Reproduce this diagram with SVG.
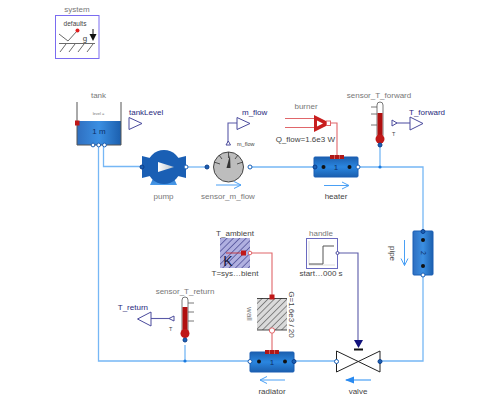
<svg xmlns="http://www.w3.org/2000/svg" width="499" height="400" viewBox="0 0 499 400">
<defs>
<linearGradient id="blue" x1="0" y1="0" x2="1" y2="0"><stop offset="0" stop-color="#2f6fc0"/><stop offset="0.5" stop-color="#3b8fe2"/><stop offset="1" stop-color="#1b5fae"/></linearGradient>
<linearGradient id="blueV" x1="0" y1="0" x2="0" y2="1"><stop offset="0" stop-color="#1b5fae"/><stop offset="0.5" stop-color="#2a86e0"/><stop offset="1" stop-color="#1b5fae"/></linearGradient>
<linearGradient id="base" x1="0" y1="0" x2="0" y2="1"><stop offset="0" stop-color="#1a5fb4"/><stop offset="1" stop-color="#4a9bea"/></linearGradient>
<linearGradient id="tip" x1="0" y1="0" x2="1" y2="0"><stop offset="0" stop-color="#ffffff"/><stop offset="1" stop-color="#b8c0c8"/></linearGradient>
<pattern id="hatchK" width="4.500" height="4.500" patternUnits="userSpaceOnUse" patternTransform="rotate(45)"><rect width="4.500" height="4.500" fill="#b0b0e0"/><line x1="0" y1="0" x2="0" y2="4.500" stroke="#4c4c96" stroke-width="1.500"/></pattern>
<pattern id="hatchW" width="4.500" height="4.500" patternUnits="userSpaceOnUse" patternTransform="rotate(45)"><rect width="4.500" height="4.500" fill="#dadada"/><line x1="0" y1="0" x2="0" y2="4.500" stroke="#606060" stroke-width="1.400"/></pattern>
</defs>
<style>
text{font-family:"Liberation Sans",Arial,sans-serif;font-size:8px}
.g{fill:#777}
.b{fill:#28287c}
.k{fill:#444}
.f{fill:none;stroke:#76b7f5;stroke-width:1.3}
.s{fill:none;stroke:#5a5aa8;stroke-width:1.100}
.h{fill:none;stroke:#e0666a;stroke-width:1.100}
.pf{fill:#1a5fb4;stroke:#0d3f8c;stroke-width:1}
.po{fill:#fff;stroke:#1a5fb4;stroke-width:1}
.tri{fill:#fff;stroke:#4a4a9c;stroke-width:1}
.fa{fill:none;stroke:#4aa0f5;stroke-width:1}
.dot{fill:#111}
</style>

<g id="connectors">
<path class="f" d="M98.500 146V361H251"/>
<path class="f" d="M103.500 146V166.500H142"/>
<path class="f" d="M186 167H207"/>
<path class="f" d="M250 167H315"/>
<path class="f" d="M358 167H423V231"/>
<path class="f" d="M423 275V361H380"/>
<path class="f" d="M294 361H336"/>
<path class="f" d="M380 146V167"/>
<path class="f" d="M185 345V361"/>
<path class="s" d="M228 143V123H237"/>
<path class="s" d="M394 123H410"/>
<path class="s" d="M151 318.500H171"/>
<path class="s" d="M337 253H358V340"/>
<path class="h" d="M330 123H337V156"/>
<path class="h" d="M250 253H272V297"/>
<path class="h" d="M272 331V352"/>
<circle cx="380" cy="167" r="1.600" fill="#1a7ae0"/>
<circle cx="185" cy="361" r="1.600" fill="#1a7ae0"/>
</g>

<g id="system">
<text class="g" x="77" y="12" text-anchor="middle">system</text>
<rect x="55.500" y="15.500" width="43.500" height="43" fill="#fff" stroke="#7a6cf0" stroke-width="1"/>
<text x="75" y="26" text-anchor="middle" class="k" style="font-size:6.500px">defaults</text>
<path d="M59 34L68 41L77 31" fill="none" stroke="#444" stroke-width=".8"/>
<circle cx="77.500" cy="30.500" r="2" fill="#e01c1c"/>
<path d="M59 43.500H95M60 52L66 44M69 52L75 44M78 52L84 44M87 52L93 44" fill="none" stroke="#444" stroke-width=".8"/>
<text x="85" y="41" text-anchor="middle" class="k" style="font-size:8px">g</text>
<path d="M93 29V36" stroke="#111" stroke-width="1"/>
<path d="M89.500 34H96.500L93 41Z" fill="#111"/>
</g>

<g id="tank">
<text class="g" x="98.500" y="98" text-anchor="middle">tank</text>
<rect x="77" y="121" width="44" height="24" fill="url(#blue)"/>
<path d="M77 102V145H121V102" fill="none" stroke="#555" stroke-width="1"/>
<text x="98.500" y="115" text-anchor="middle" class="g" style="font-size:4px">level =</text>
<text x="99" y="134" text-anchor="middle" fill="#0d2f66">1 m</text>
<rect x="75" y="120.500" width="4.500" height="5" fill="#c01818"/>
<circle cx="93" cy="145" r="1.900" class="po"/>
<circle cx="98.700" cy="145" r="1.900" class="po"/>
<circle cx="104.500" cy="145" r="1.900" class="po"/>
</g>

<g id="tankLevel">
<text class="b" x="129" y="115">tankLevel</text>
<path class="tri" d="M129 117.500L142 123.500L129 129.500Z"/>
</g>

<g id="pump">
<path d="M150 185H177L171 172H156Z" fill="url(#base)"/>
<path d="M142 156L150 158V176L142 178ZM186 156L178 158V176L186 178Z" fill="#1a5fb4"/>
<circle cx="164" cy="167" r="17" fill="#1a5fb4"/>
<path d="M158 162L174 167L158 172Z" fill="url(#tip)"/>
<circle cx="142" cy="167" r="2" class="pf"/>
<circle cx="186" cy="167" r="2" class="po"/>
<text class="g" x="163.500" y="199" text-anchor="middle">pump</text>
</g>

<g id="sensor_m_flow">
<circle cx="228.500" cy="167" r="15" fill="#bdbdbd" stroke="#444" stroke-width="1"/>
<path d="M228.500 152V158M214 162L220 164M243 162L237 164M219 155L222 159M238 155L235 159" stroke="#333" stroke-width=".8" fill="none"/>
<path d="M226.500 168L230.500 168L230 155Z" fill="#333"/>
<path class="tri" d="M226 145H230.500L228.300 141Z"/>
<circle cx="207" cy="167" r="2" class="pf"/>
<circle cx="250" cy="167" r="2" class="po"/>
<text x="237" y="146" class="k" style="font-size:5.500px">m_flow</text>
<path class="fa" d="M216 185H241M234 181.500L241 185L234 188.500"/>
<text class="g" x="228" y="199" text-anchor="middle">sensor_m_flow</text>
</g>

<g id="m_flow">
<text class="b" x="242" y="115">m_flow</text>
<path class="tri" d="M237 117.500L250 123.500L237 129.500Z"/>
</g>

<g id="burner">
<text class="g" x="306" y="109" text-anchor="middle">burner</text>
<path d="M285 118.500H316M285 127.500H316" stroke="#e0666a" stroke-width="1" fill="none"/>
<path d="M314 115L326 121V126L314 132Z" fill="#c81e1e"/>
<path d="M317 120.500L323 123.500L317 126.500Z" fill="#fff"/>
<rect x="326.500" y="121" width="4" height="4.500" fill="#fff" stroke="#e0666a"/>
<text class="k" x="335" y="142" text-anchor="end">Q_flow=1.6e3 W</text>
</g>

<g id="heater">
<rect x="314" y="157" width="44" height="20" rx="1" fill="url(#blueV)" stroke="#1a5fb4"/>
<rect x="330" y="155" width="14" height="4" fill="#b01818"/>
<path d="M334.500 155V159M339.500 155V159" stroke="#e89090" stroke-width=".6"/>
<circle cx="323.500" cy="167" r="2" class="dot"/>
<circle cx="349.500" cy="167" r="2" class="dot"/>
<text x="336" y="170" text-anchor="middle" fill="#0d2f66">1</text>
<circle cx="315" cy="167" r="2" class="pf"/>
<circle cx="358" cy="167" r="2" class="po"/>
<path class="fa" d="M324 185.500H349M342 182L349 185.500L342 189"/>
<text class="k" x="336" y="199" text-anchor="middle">heater</text>
</g>

<g id="sensor_T_forward">
<text class="g" x="379" y="98" text-anchor="middle">sensor_T_forward</text>
<rect x="377" y="102" width="6" height="36" rx="3" fill="#fff" stroke="#555" stroke-width=".8"/>
<rect x="377.500" y="113" width="5" height="27" fill="#b01010"/>
<circle cx="380" cy="139" r="4.500" fill="#c01818"/>
<path d="M371 107H377M371 114H377M371 125H377" stroke="#555" stroke-width=".8"/>
<circle cx="380" cy="145" r="2" class="pf"/>
<path class="tri" d="M392 120L397 123L392 126Z"/>
<text class="k" x="392" y="136" style="font-size:5.500px">T</text>
</g>

<g id="T_forward">
<text class="b" x="409" y="115">T_forward</text>
<path class="tri" d="M410 117L423 123.500L410 130Z"/>
</g>

<g id="pipe">
<rect x="413" y="231" width="20" height="44" rx="1" fill="url(#blue)" stroke="#1a5fb4"/>
<circle cx="423" cy="240" r="2" class="dot"/>
<circle cx="423" cy="266" r="2" class="dot"/>
<text transform="translate(420.500 253) rotate(90)" text-anchor="middle" fill="#0d2f66" style="font-size:7px">2</text>
<circle cx="423" cy="231.500" r="2" class="pf"/>
<circle cx="423" cy="275" r="2" class="po"/>
<text class="k" transform="translate(390 253.500) rotate(90)" text-anchor="middle">pipe</text>
<path class="fa" d="M404.500 240V265.500M401 258.500L404.500 265.500L408 258.500"/>
</g>

<g id="T_ambient">
<text class="k" x="235" y="236" text-anchor="middle">T_ambient</text>
<rect x="220" y="238" width="30" height="30" fill="url(#hatchK)"/>
<path d="M226 253H244" stroke="#c81e1e" stroke-width=".8"/>
<rect x="241" y="250.500" width="5" height="5" fill="#c01818"/>
<circle cx="250" cy="253" r="1.800" fill="#fff" stroke="#e0666a"/>
<text x="228" y="266" text-anchor="middle" fill="#14143c" style="font-size:14px">K</text>
<text class="k" x="235" y="275.500" text-anchor="middle">T=sys…bient</text>
</g>

<g id="handle">
<text class="g" x="321" y="236" text-anchor="middle">handle</text>
<rect x="306.500" y="238.500" width="31" height="30" fill="#fff" stroke="#6a6ac0" stroke-width="1"/>
<path d="M309 241V265H335" fill="none" stroke="#ccc" stroke-width=".7"/>
<path d="M309 264H323V246H334" fill="none" stroke="#555" stroke-width="1"/>
<circle cx="337.500" cy="253" r="1.500" class="tri"/>
<text class="k" x="321" y="276" text-anchor="middle">start…000 s</text>
</g>

<g id="wall">
<rect x="257" y="298" width="30" height="32" fill="url(#hatchW)"/>
<path d="M257 298.500H287M257 330H287" stroke="#222" stroke-width=".8"/>
<rect x="269.500" y="294.500" width="5" height="5" fill="#c01818"/>
<rect x="269.500" y="328" width="5" height="5" rx="2" fill="#fff" stroke="#e0666a"/>
<text class="g" transform="translate(247 314) rotate(90)" text-anchor="middle">wall</text>
<text class="k" transform="translate(289 314.500) rotate(90)" text-anchor="middle">G=1.6e3 / 20</text>
</g>

<g id="sensor_T_return">
<text class="g" x="185" y="294" text-anchor="middle">sensor_T_return</text>
<rect x="182" y="297" width="6" height="36" rx="3" fill="#fff" stroke="#555" stroke-width=".8"/>
<rect x="182.500" y="307" width="5" height="27" fill="#b01010"/>
<circle cx="185" cy="333.500" r="4.500" fill="#c01818"/>
<path d="M188 303H194M188 312H194M188 321H194" stroke="#555" stroke-width=".8"/>
<circle cx="185" cy="340" r="2" class="pf"/>
<path class="tri" d="M174 316L169 318.500L174 321Z"/>
<text class="k" x="169" y="331" style="font-size:5.500px">T</text>
</g>

<g id="T_return">
<text class="b" x="148" y="309.500" text-anchor="end">T_return</text>
<path class="tri" d="M151 312L137.500 319L151 326Z"/>
</g>

<g id="radiator">
<rect x="250" y="352" width="44" height="20" rx="1" fill="url(#blueV)" stroke="#1a5fb4"/>
<rect x="265" y="350" width="14" height="4" fill="#b01818"/>
<path d="M269.500 350V354M274.500 350V354" stroke="#e89090" stroke-width=".6"/>
<circle cx="259" cy="361.500" r="2" class="dot"/>
<circle cx="285" cy="361.500" r="2" class="dot"/>
<text x="272" y="364.500" text-anchor="middle" fill="#0d2f66">1</text>
<circle cx="250" cy="361.500" r="2" class="po"/>
<circle cx="294" cy="361.500" r="2" class="pf"/>
<path class="fa" d="M285 380H260M267 376.500L260 380L267 383.500"/>
<text class="k" x="272" y="394" text-anchor="middle">radiator</text>
</g>

<g id="valve">
<path d="M336.500 351L380 372V351L336.500 372Z" fill="#fff" stroke="#222" stroke-width="1"/>
<path d="M354 340H363L358.500 348Z" fill="#12127c"/>
<rect x="354" y="348.500" width="9" height="2" fill="#111"/>
<circle cx="336.500" cy="361.500" r="2" class="po"/>
<circle cx="380" cy="361.500" r="2" class="pf"/>
<path d="M371 380H346" stroke="#4aa0f5" stroke-width="1.200"/>
<path d="M345 380L354 376.500V383.500Z" fill="#2a8af0"/>
<text class="k" x="358" y="394" text-anchor="middle">valve</text>
</g>
</svg>
